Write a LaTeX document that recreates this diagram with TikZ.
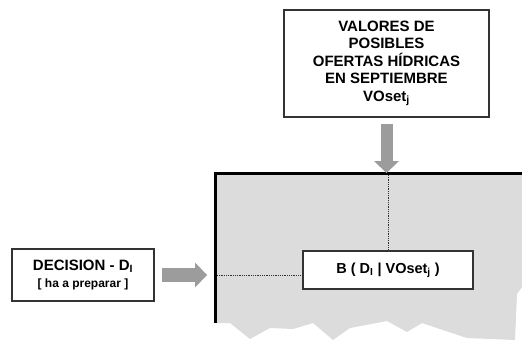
\documentclass[tikz,border=0pt]{standalone}
\usepackage{fontspec}
\setmainfont{Liberation Sans}
\usetikzlibrary{arrows.meta, positioning, calc}
\definecolor{PaleGrey}{HTML}{DCDCDC}
\definecolor{ArrowGrey}{HTML}{9C9C9C}
\definecolor{EdgeGrey}{HTML}{333333}
\tikzset{
  infobox/.style={rectangle, draw=EdgeGrey, line width=1.3pt, fill=white,
                  align=center, font=\bfseries, inner sep=0pt},
  blockarrow/.style={draw=ArrowGrey, line width=12pt,
                     -{Triangle[length=12pt, width=25pt, line width=0pt]}},
  guide/.style={draw=EdgeGrey, densely dotted, line width=0.8pt},
}

\begin{document}
\begin{tikzpicture}[x=1pt, y=-1pt]
    \useasboundingbox (0,0) rectangle (522,341);

    % Torn grey sheet with its thick frame
    \coordinate (corner) at (215,173);
    \fill[PaleGrey] (corner) -- (522,173) -- (522,287) -- (517,294)
        -- (515,340) -- (467,338) -- (422,323) -- (407,332) -- (387,321)
        -- (350,328) -- (333,340) -- (313,323) -- (293,329) -- (270,328)
        -- (250,339) -- (230,323) -- (215,323) -- cycle;
    \draw[line width=3pt] (215,323) -- (corner) -- (522,173);

    % Boxes
    \node[infobox, minimum width=205pt, minimum height=107pt,
          font=\bfseries\fontsize{15}{17.5}\selectfont] (valores) at (386.5,63.5)
        {VALORES DE\\POSIBLES\\OFERTAS HÍDRICAS\\EN SEPTIEMBRE\\VOset\textsubscript{j}};
    \node[infobox, minimum width=142pt, minimum height=52pt,
          font=\bfseries\fontsize{15}{17}\selectfont] (decision) at (83,275)
        {DECISION - D\textsubscript{I}\\{\fontsize{12}{14}\selectfont [ ha a preparar ]}};
    \node[infobox, minimum width=170pt, minimum height=38pt,
          font=\bfseries\fontsize{14.5}{16}\selectfont] (bfun) at (388,270)
        {B ( D\textsubscript{I} | VOset\textsubscript{j} )};

    % Grey arrows into the sheet
    \draw[blockarrow] ([yshift=-6pt]valores.south) -- (valores.south |- corner);
    \draw[blockarrow, line width=14pt] ([xshift=7pt]decision.east)
        -- ([xshift=-8pt]decision.east -| corner);

    % Dotted guides to B
    \draw[guide] ([yshift=-2pt]bfun.north |- corner) -- (bfun.north);
    \draw[guide] ([xshift=2pt]decision.east -| corner) -- (decision.east -| bfun.west);
\end{tikzpicture}
\end{document}
